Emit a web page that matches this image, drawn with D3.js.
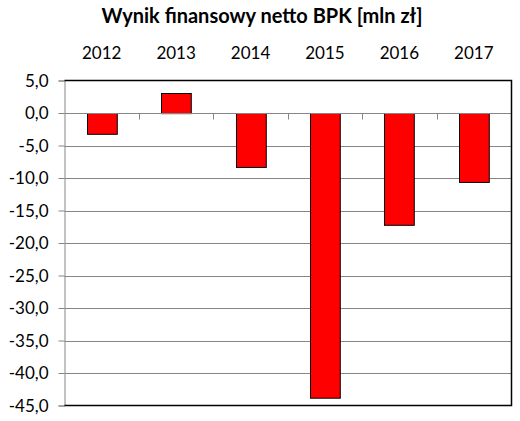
<!DOCTYPE html>
<html>
<head>
<meta charset="utf-8">
<script src="https://cdn.jsdelivr.net/npm/d3@7"></script>
<style>
  body { margin: 0; background: #fff; }
  svg text { font-family: "Lato", "Open Sans", sans-serif; fill: #000; }
</style>
</head>
<body>
<svg id="chart" width="520" height="421"></svg>
<script>
// data
var years = ["2012", "2013", "2014", "2015", "2016", "2017"];
var values = [-3.2, 3.1, -8.3, -43.8, -17.2, -10.6];
var yTicks = [5, 0, -5, -10, -15, -20, -25, -30, -35, -40, -45];

var svg = d3.select("#chart"),
  plotLeft = 64.5,
  plotRight = 511,
  plotTop = 80.5,
  plotBottom = 405.5;

var x = d3.scaleBand().domain(years).range([plotLeft, plotRight]).paddingInner(0.6).paddingOuter(0.3);
var xTicks = d3.scaleBand().domain(years).range([plotLeft, plotRight]);
var y = d3.scaleLinear().domain([-45, 5]).range([plotBottom, plotTop]);

svg.append("text")
  .attr("x", 262)
  .attr("y", 23)
  .attr("text-anchor", "middle")
  .style("font-size", "20px")
  .style("font-weight", "bold")
  .text("Wynik finansowy netto BPK [mln zł]");

// gridlines
svg.append("g")
  .selectAll("line")
  .data(yTicks.filter(function (d) { return d < 5 && d > -45 && d !== 0; }))
  .enter()
  .append("line")
  .attr("x1", plotLeft)
  .attr("x2", plotRight)
  .attr("y1", function (d) { return Math.round(y(d)) + 0.5; })
  .attr("y2", function (d) { return Math.round(y(d)) + 0.5; })
  .attr("stroke", "#868686")
  .attr("stroke-width", 1);

// y axis
var yAxis = d3.axisLeft(y)
  .tickValues(yTicks)
  .tickSize(6)
  .tickPadding(10)
  .tickFormat(function (d) { return d3.format(".1f")(d).replace(".", ",").replace("−", "-"); });

var gy = svg.append("g").attr("transform", "translate(" + plotLeft + ",0)").call(yAxis);
gy.select(".domain").attr("stroke", "#868686");
gy.selectAll(".tick line").attr("stroke", "#868686");
gy.selectAll(".tick text").style("font-size", "17px").attr("dy", "0.34em");

// bars
svg.append("g")
  .selectAll("rect")
  .data(values)
  .enter()
  .append("rect")
  .attr("x", function (d, i) { return Math.round(x(years[i])) + 0.5; })
  .attr("width", x.bandwidth())
  .attr("y", function (d) { return Math.round(y(Math.max(0, d))) + 0.5; })
  .attr("height", function (d) { return Math.abs(y(d) - y(0)); })
  .attr("fill", "#ff0000")
  .attr("stroke", "#000")
  .attr("stroke-width", 1);

// zero axis with category ticks
var y0 = Math.round(y(0)) + 0.5;
svg.append("line")
  .attr("x1", plotLeft).attr("x2", plotRight)
  .attr("y1", y0).attr("y2", y0)
  .attr("stroke", "#868686");
svg.append("g")
  .selectAll("line")
  .data(years.slice(1))
  .enter()
  .append("line")
  .attr("x1", function (d) { return Math.round(xTicks(d)) + 0.5; })
  .attr("x2", function (d) { return Math.round(xTicks(d)) + 0.5; })
  .attr("y1", y0)
  .attr("y2", y0 + 6)
  .attr("stroke", "#868686");

// category labels on top
svg.append("g")
  .selectAll("text")
  .data(years)
  .enter()
  .append("text")
  .attr("x", function (d) { return xTicks(d) + xTicks.bandwidth() / 2; })
  .attr("y", 59)
  .attr("text-anchor", "middle")
  .style("font-size", "17px")
  .text(function (d) { return d; });

// plot frame: top, right, bottom in black
svg.append("path")
  .attr("d", "M" + plotLeft + "," + plotTop + "H" + (plotRight + 0.5) + "V" + plotBottom + "H" + plotLeft)
  .attr("fill", "none")
  .attr("stroke", "#000")
  .attr("stroke-width", 1.5);
</script>
</body>
</html>
